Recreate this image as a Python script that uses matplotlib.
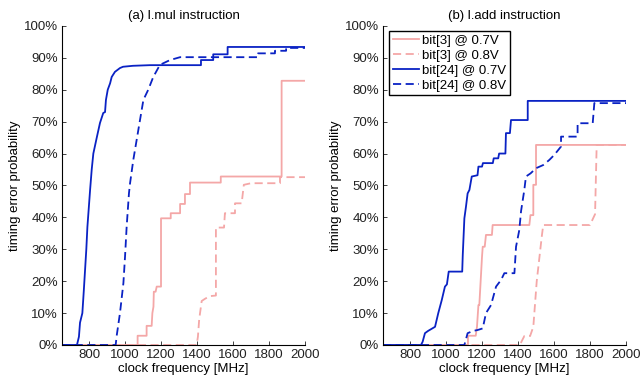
import matplotlib
matplotlib.use('Agg')
import matplotlib.pyplot as plt
from matplotlib.ticker import FuncFormatter

plt.rcParams['font.family'] = ['Liberation Sans', 'DejaVu Sans']
plt.rcParams['font.size'] = 9.5

# (a) l.mul instruction -- clock frequency [MHz], error probability [%]
mul_b3_07_f = [650, 1070, 1070, 1120, 1120, 1148, 1152, 1158, 1160, 1170, 1176, 1200, 1200, 1254, 1254,
               1306, 1306, 1333, 1333, 1361, 1361, 1532, 1532, 1870, 1870, 2000]
mul_b3_07_p = [0, 0, 2.9, 2.9, 6, 6, 10, 12, 16.7, 16.7, 18.3, 18.3, 39.7, 39.7, 41.3,
               41.3, 44.2, 44.2, 47.3, 47.3, 50.9, 50.9, 52.8, 52.8, 82.8, 82.8]

mul_b3_08_f = [650, 1398, 1405, 1412, 1426, 1445, 1470, 1505, 1505, 1550, 1555, 1611, 1611, 1648,
               1660, 1700, 1861, 1861, 2000]
mul_b3_08_p = [0, 0, 2.6, 8, 13.8, 14.5, 15.3, 15.5, 36.8, 36.8, 41.3, 41.3, 44.4, 44.4,
               50.2, 50.7, 50.7, 52.6, 52.6]

mul_b24_07_f = [650, 733, 744, 750, 763, 771, 785, 791, 806, 815, 824, 843, 861, 879, 889, 894, 904,
                917, 926, 944, 972, 989, 1044, 1139, 1422, 1422, 1490, 1490, 1570, 1570, 2000]
mul_b24_07_p = [0, 0, 2.6, 7, 10, 17, 30, 37, 48.6, 55, 60, 65, 69.6, 72.7, 73, 76.8, 80,
                82, 84, 85.6, 86.8, 87.2, 87.5, 87.7, 87.7, 89.3, 89.3, 91.1, 91.1, 93.4, 93.4]

mul_b24_08_f = [650, 948, 954, 972, 991, 1000, 1009, 1022, 1028, 1046, 1074, 1102, 1129, 1157, 1194,
                1250, 1306, 1739, 1739, 1833, 1833, 1895, 1895, 2000]
mul_b24_08_p = [0, 0, 3, 10, 19.4, 27.6, 37, 47.6, 50.7, 58, 67.4, 76.8, 80, 84, 87.8,
                89.3, 90.2, 90.2, 91.4, 91.4, 92.2, 92.2, 93.1, 93.1]

# (b) l.add instruction
add_b3_07_f = [650, 1122, 1122, 1165, 1172, 1180, 1185, 1200, 1204, 1215, 1222, 1255, 1259, 1463,
               1469, 1485, 1485, 1500, 1500, 2000]
add_b3_07_p = [0, 0, 2.9, 2.9, 5.7, 12.5, 12.5, 27.7, 30.8, 30.8, 34.5, 34.5, 37.6, 37.6,
               40.7, 40.7, 50.2, 50.2, 62.7, 62.7]

add_b3_08_f = [650, 1410, 1435, 1467, 1485, 1504, 1532, 1540, 1800, 1828, 1837, 2000]
add_b3_08_p = [0, 0, 2.8, 2.8, 5.7, 20, 34, 37.6, 37.6, 41, 62.7, 62.7]

add_b24_07_f = [650, 861, 870, 883, 900, 939, 957, 976, 994, 1005, 1015, 1090, 1093, 1102, 1111, 1120,
                1130, 1143, 1175, 1180, 1200, 1205, 1260, 1265, 1290, 1295, 1330, 1333, 1355, 1361,
                1454, 1454, 2000]
add_b24_07_p = [0, 0, 1, 3.7, 4.4, 5.7, 10, 14, 18.3, 19, 23, 23, 28.2, 39.7, 43.4, 47.5,
                48.6, 52.8, 53.2, 55.9, 55.9, 57, 57, 58.5, 58.5, 60, 60, 66.4, 66.4, 70.5,
                70.5, 76.5, 76.5]

add_b24_08_f = [650, 1102, 1120, 1150, 1176, 1204, 1222, 1250, 1278, 1306, 1324, 1380, 1389, 1407, 1417,
                1435, 1444, 1470, 1500, 1540, 1574, 1602, 1639, 1639, 1731, 1731, 1815, 1824, 2000]
add_b24_08_p = [0, 0, 3.7, 4.4, 4.7, 5.2, 10, 12.5, 18.3, 20.4, 22.5, 22.5, 30.8, 36, 42,
                48.6, 52.8, 53.8, 55.4, 56.4, 58, 59.6, 62.2, 65.3, 65.3, 69.5, 69.5, 75.8, 75.8]

labels = ['bit[3] @ 0.7V', 'bit[3] @ 0.8V', 'bit[24] @ 0.7V', 'bit[24] @ 0.8V']
titles = ['(a) l.mul instruction', '(b) l.add instruction']

pink = '#f4a7a7'
blue = '#0a22c4'
dash = (0, (4.5, 2.5))

fig = plt.figure(figsize=(6.42, 3.81), dpi=100)
ax1 = fig.add_axes([0.0966, 0.0945, 0.3785, 0.8375])
ax2 = fig.add_axes([0.5966, 0.0945, 0.3785, 0.8375])

panels = [
    (ax1, [(mul_b3_07_f, mul_b3_07_p), (mul_b3_08_f, mul_b3_08_p),
           (mul_b24_07_f, mul_b24_07_p), (mul_b24_08_f, mul_b24_08_p)]),
    (ax2, [(add_b3_07_f, add_b3_07_p), (add_b3_08_f, add_b3_08_p),
           (add_b24_07_f, add_b24_07_p), (add_b24_08_f, add_b24_08_p)]),
]
styles = [(pink, '-'), (pink, dash), (blue, '-'), (blue, dash)]

for i, (ax, series) in enumerate(panels):
    for (f, p), (c, ls), lab in zip(series, styles, labels):
        ax.plot(f, p, color=c, linestyle=ls, lw=1.3, label=lab)
    ax.set_xlim(650, 2000)
    ax.set_ylim(0, 100)
    ax.set_xticks(range(800, 2001, 200))
    ax.set_yticks(range(0, 101, 10))
    ax.yaxis.set_major_formatter(FuncFormatter(lambda v, pos: '%d%%' % v))
    ax.spines['top'].set_visible(False)
    ax.spines['right'].set_visible(False)
    ax.tick_params(direction='in', length=3, width=0.6, labelsize=9.5, colors='#222222', pad=3)
    for s in ['left', 'bottom']:
        ax.spines[s].set_linewidth(0.8)
    ax.set_xlabel('clock frequency [MHz]', labelpad=1)
    ax.set_ylabel('timing error probability', labelpad=2)
    ax.set_title(titles[i], fontsize=9.5, pad=5)

leg = ax2.legend(loc='upper left', bbox_to_anchor=(0.025, 0.985), fancybox=False, framealpha=1,
                 edgecolor='black', handlelength=2.0, handletextpad=0.2, labelspacing=0.2,
                 borderpad=0.3, borderaxespad=0.0, fontsize=9.5)
leg.get_frame().set_linewidth(1.0)

fig.savefig('out.png', dpi=100)
